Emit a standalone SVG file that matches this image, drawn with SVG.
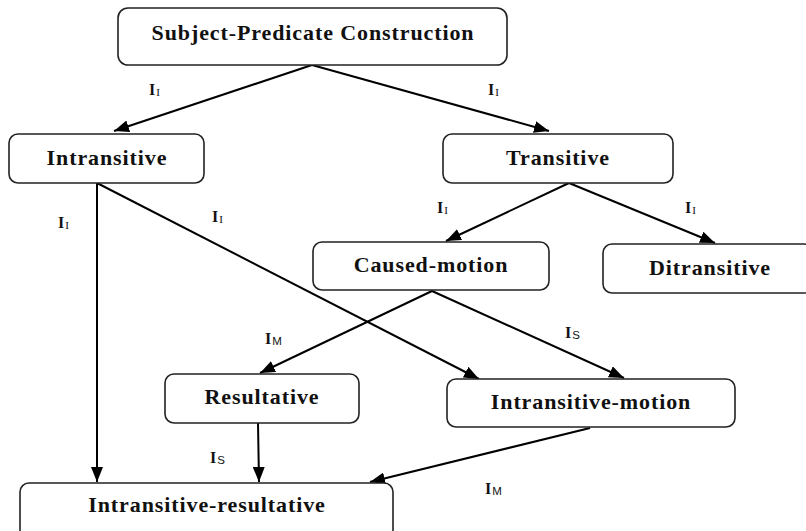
<svg xmlns="http://www.w3.org/2000/svg" width="806" height="531" viewBox="0 0 806 531">
<style>
.box{fill:#fff;stroke:#222;stroke-width:1.6}
.t{font-family:"Liberation Serif","Times New Roman",serif;font-weight:bold;font-size:22px;letter-spacing:0.9px;fill:#111;text-anchor:middle}
.lbl{font-family:"Liberation Serif","Times New Roman",serif;font-weight:bold;font-size:16px;fill:#111}
.sub{font-weight:normal;font-size:11px}
.ss{font-family:"Liberation Sans",Arial,sans-serif;font-weight:normal;font-size:11.5px}
.c{stroke:#000;stroke-width:2;fill:none;marker-end:url(#ah)}
</style>
<defs>
<marker id="ah" markerUnits="userSpaceOnUse" markerWidth="15" markerHeight="12" refX="15" refY="6" orient="auto">
<path d="M0,0 L15,6 L0,12 z" fill="#000"/>
</marker>
</defs>
<rect width="806" height="531" fill="#fff"/>
<g id="connectors">
<line class="c" x1="312" y1="65" x2="114" y2="131"/>
<line class="c" x1="312" y1="65" x2="549" y2="131"/>
<line class="c" x1="97" y1="183" x2="97" y2="482"/>
<line class="c" x1="97" y1="183" x2="479" y2="379"/>
<line class="c" x1="569" y1="183" x2="446" y2="241"/>
<line class="c" x1="569" y1="183" x2="715" y2="243"/>
<line class="c" x1="432" y1="291" x2="260" y2="373"/>
<line class="c" x1="432" y1="291" x2="624" y2="378"/>
<line class="c" x1="258" y1="423" x2="259" y2="482"/>
<line class="c" x1="590" y1="428" x2="370" y2="482"/>
</g>
<g id="labels">
<text class="lbl" x="149" y="95">I<tspan class="sub" dx="1" dy="1">I</tspan></text>
<text class="lbl" x="488" y="95">I<tspan class="sub" dx="1" dy="1">I</tspan></text>
<text class="lbl" x="437" y="213">I<tspan class="sub" dx="1" dy="1">I</tspan></text>
<text class="lbl" x="685" y="213">I<tspan class="sub" dx="1" dy="1">I</tspan></text>
<text class="lbl" x="58" y="228">I<tspan class="sub" dx="1" dy="1">I</tspan></text>
<text class="lbl" x="212" y="222">I<tspan class="sub" dx="1" dy="1">I</tspan></text>
<text class="lbl" x="265" y="344">I<tspan class="ss" dx="1" dy="1">M</tspan></text>
<text class="lbl" x="565" y="338">I<tspan class="ss" dx="1" dy="1">S</tspan></text>
<text class="lbl" x="210" y="463">I<tspan class="ss" dx="1" dy="1">S</tspan></text>
<text class="lbl" x="485" y="494">I<tspan class="ss" dx="1" dy="1">M</tspan></text>
</g>
<g id="n-subject-predicate">
<rect class="box" x="118" y="8" width="389" height="57" rx="10"/>
<text class="t" x="313" y="40">Subject-Predicate Construction</text>
</g>
<g id="n-intransitive">
<rect class="box" x="9" y="134" width="195" height="49" rx="9"/>
<text class="t" x="107" y="165">Intransitive</text>
</g>
<g id="n-transitive">
<rect class="box" x="443" y="134" width="230" height="49" rx="9"/>
<text class="t" x="558" y="165">Transitive</text>
</g>
<g id="n-caused-motion">
<rect class="box" x="313" y="242" width="236" height="48" rx="9"/>
<text class="t" x="431" y="272">Caused-motion</text>
</g>
<g id="n-ditransitive">
<rect class="box" x="603" y="244" width="210" height="49" rx="9"/>
<text class="t" x="710" y="275">Ditransitive</text>
</g>
<g id="n-resultative">
<rect class="box" x="165" y="374" width="194" height="49" rx="9"/>
<text class="t" x="262" y="404">Resultative</text>
</g>
<g id="n-intransitive-motion">
<rect class="box" x="447" y="379" width="288" height="48" rx="9"/>
<text class="t" x="591" y="409">Intransitive-motion</text>
</g>
<g id="n-intransitive-resultative">
<rect class="box" x="20" y="483" width="373" height="60" rx="9"/>
<text class="t" x="207" y="512">Intransitive-resultative</text>
</g>
</svg>
